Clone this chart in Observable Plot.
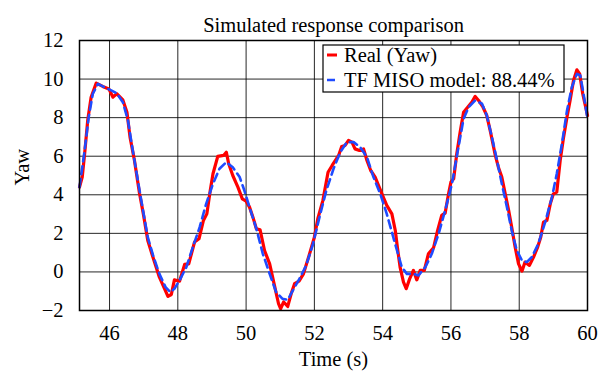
<!DOCTYPE html>
<html><head><meta charset="utf-8">
<script src="https://cdn.jsdelivr.net/npm/d3@7"></script>
<script src="https://cdn.jsdelivr.net/npm/@observablehq/plot@0.6"></script>
<style>
body{margin:0;background:#fff;}
#wrap{position:relative;width:607px;height:376px;}
#wrap svg, #wrap svg text{font-family:"Liberation Serif","Times New Roman",Times,serif !important;}
</style></head><body><div id="wrap"></div>
<script>
const title = "Simulated response comparison";
const xLabel = "Time (s)";
const yLabel = "Yaw";
const seriesNames = ["Real (Yaw)", "TF MISO model: 88.44%"];
const seriesColors = ["#ff0000", "#1f4bff"];
const xTicks = [46, 48, 50, 52, 54, 56, 58, 60];
const yTicks = [-2, 0, 2, 4, 6, 8, 10, 12];

const realT = [45.12,45.20,45.27,45.36,45.46,45.61,45.80,45.98,46.10,46.21,46.39,46.51,46.60,46.73,46.88,46.99,47.12,47.27,47.46,47.61,47.71,47.81,47.90,48.05,48.20,48.32,48.49,48.62,48.75,48.85,48.95,49.03,49.17,49.34,49.42,49.49,49.61,49.76,49.89,50.00,50.10,50.20,50.30,50.41,50.54,50.69,50.83,50.95,51.01,51.10,51.22,51.32,51.42,51.55,51.68,51.86,52.00,52.10,52.25,52.40,52.52,52.71,52.80,52.90,53.00,53.10,53.19,53.32,53.44,53.54,53.65,53.78,53.88,54.00,54.12,54.27,54.37,54.43,54.51,54.61,54.69,54.79,54.90,55.00,55.10,55.22,55.34,55.49,55.61,55.73,55.83,55.93,56.00,56.08,56.17,56.27,56.37,56.49,56.61,56.71,56.81,56.94,57.05,57.15,57.30,57.39,57.49,57.59,57.69,57.78,57.88,57.98,58.08,58.17,58.30,58.42,58.54,58.63,58.71,58.81,58.91,59.00,59.10,59.20,59.30,59.40,59.49,59.59,59.69,59.77,59.86,60.00];
const realY = [4.40,4.92,6.12,7.85,9.06,9.79,9.62,9.49,9.06,9.24,8.92,8.28,6.99,5.78,4.05,3.01,1.63,0.77,-0.27,-0.87,-1.27,-1.17,-0.41,-0.48,0.39,0.42,1.55,1.72,2.67,3.01,4.22,5.09,5.99,6.04,6.21,5.61,5.00,4.40,3.79,3.67,3.36,2.84,2.24,2.18,1.11,0.42,-0.70,-1.65,-1.91,-1.56,-1.79,-1.13,-0.61,-0.48,-0.10,0.94,1.80,2.76,3.71,5.17,5.52,6.04,6.50,6.56,6.82,6.73,6.38,6.30,6.38,5.78,5.26,4.92,4.48,3.96,3.45,3.01,2.15,1.29,0.25,-0.53,-0.87,-0.36,0.08,-0.41,0.08,0.08,0.94,1.25,2.15,2.93,3.05,4.05,4.66,4.83,6.12,7.25,8.28,8.54,8.80,9.10,8.89,8.54,8.11,7.33,6.04,5.43,4.92,4.05,3.19,2.32,1.29,0.42,0.04,0.51,0.34,0.77,1.29,1.80,2.58,2.67,3.53,4.05,4.14,5.78,6.99,8.03,8.89,9.93,10.48,10.27,9.24,8.11];

const modelT = [45.12,45.27,45.39,45.51,45.66,45.85,46.05,46.21,46.39,46.54,46.68,46.83,46.98,47.12,47.29,47.46,47.64,47.78,47.90,48.05,48.25,48.44,48.64,48.83,49.03,49.22,49.42,49.61,49.81,49.95,50.10,50.30,50.49,50.69,50.88,51.06,51.22,51.37,51.56,51.76,51.96,52.15,52.35,52.56,52.76,52.95,53.15,53.34,53.54,53.73,53.93,54.12,54.27,54.42,54.56,54.71,54.90,55.05,55.25,55.44,55.64,55.83,56.03,56.22,56.37,56.52,56.71,56.91,57.05,57.20,57.35,57.49,57.64,57.78,57.93,58.08,58.22,58.37,58.56,58.76,58.96,59.10,59.25,59.40,59.54,59.69,59.79,59.90,60.00];
const modelY = [4.40,6.30,8.03,9.24,9.75,9.58,9.41,9.27,8.80,7.85,6.30,4.74,3.19,1.80,0.77,-0.10,-0.79,-1.05,-0.87,-0.44,0.25,1.29,2.32,3.53,4.57,5.35,5.69,5.43,4.92,4.22,3.36,2.24,0.94,-0.10,-1.05,-1.39,-1.44,-0.96,-0.36,0.34,1.46,2.84,4.22,5.35,6.21,6.73,6.73,6.47,5.95,4.92,4.05,3.01,2.06,1.11,0.25,-0.10,-0.10,-0.18,0.25,0.94,1.98,3.19,4.57,6.47,7.94,8.54,8.89,8.72,8.11,6.99,5.78,4.57,3.36,2.15,1.11,0.60,0.51,0.77,1.46,2.58,3.88,5.09,6.64,8.37,9.58,10.27,10.19,9.06,7.94];

const real = realT.map((t, i) => ({t, y: realY[i]}));
const model = modelT.map((t, i) => ({t, y: modelY[i]}));

const font = "Liberation Serif, Times New Roman, Times, serif";
const fs = 20.5;

const chart = Plot.plot({
  width: 607, height: 376,
  marginLeft: 79, marginRight: 20, marginTop: 40, marginBottom: 66,
  style: {fontFamily: font, fontSize: fs + "px", background: "#fff", color: "#000"},
  x: {domain: [45.12, 60], ticks: xTicks, tickSize: 0, tickPadding: 15, label: null},
  y: {domain: [-2, 12], ticks: yTicks, tickSize: 0, tickPadding: 16, label: null},
  marks: [
    Plot.gridX(xTicks, {stroke: "#000", strokeOpacity: 0.85, strokeWidth: 1}),
    Plot.gridY(yTicks, {stroke: "#000", strokeOpacity: 0.85, strokeWidth: 1}),
    Plot.line(real, {x: "t", y: "y", stroke: seriesColors[0], strokeWidth: 3.2, strokeLinejoin: "round"}),
    Plot.line(model, {x: "t", y: "y", stroke: seriesColors[1], strokeWidth: 2.6, strokeDasharray: "8,5"}),
    Plot.frame({stroke: "#000", strokeWidth: 1.5}),
    Plot.text([title], {text: d => d, frameAnchor: "top", dy: -23, fontSize: fs}),
    Plot.text([xLabel], {text: d => d, frameAnchor: "bottom", dy: 55, fontSize: fs}),
    Plot.text([yLabel], {text: d => d, frameAnchor: "left", dx: -57, dy: 10, rotate: -90, fontSize: fs})
  ]
});
const wrap = document.getElementById("wrap");
wrap.appendChild(chart);

// legend overlay
const lg = d3.select(wrap).append("svg")
  .attr("width", 243).attr("height", 49)
  .style("position", "absolute").style("left", "322px").style("top", "44px")
  .style("font-size", fs + "px");
lg.append("rect").attr("x", 1).attr("y", 1).attr("width", 241).attr("height", 47)
  .attr("fill", "#fff").attr("stroke", "#000").attr("stroke-width", 1.2);
seriesNames.forEach((name, i) => {
  const cy = 11 + i * 25;
  lg.append("line").attr("x1", 5).attr("x2", 15).attr("y1", cy).attr("y2", cy)
    .attr("stroke", seriesColors[i]).attr("stroke-width", i === 0 ? 3 : 2.5)
    .attr("stroke-dasharray", i === 0 ? null : "8,5");
  lg.append("text").attr("x", 22).attr("y", cy).attr("dy", "0.34em").attr("fill", "#000").text(name);
});
</script></body></html>
